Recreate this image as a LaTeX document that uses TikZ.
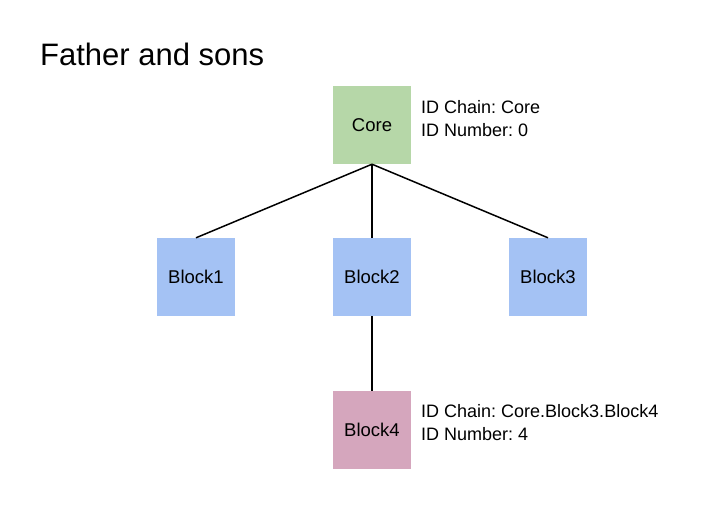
\documentclass[tikz,border=0pt]{standalone}
\usepackage{fontspec}
\setmainfont{Liberation Sans}
\definecolor{coregreen}{HTML}{B6D7A8}
\definecolor{blockblue}{HTML}{A4C2F4}
\definecolor{blockpink}{HTML}{D5A6BD}
\frenchspacing
\begin{document}
\begin{tikzpicture}[x=1pt,y=-1pt]

  \tikzstyle{block} = [minimum size=78pt, inner sep=0, font=\fontsize{18.5}{22}\selectfont]
  \tikzstyle{info} = [anchor=base west, inner sep=0, font=\fontsize{18}{22}\selectfont]

  \useasboundingbox (0,0) rectangle (727,512);

  \node[anchor=base west, inner sep=0, font=\fontsize{31}{36}\selectfont] (title) at (40,65) {Father and sons};

  \node[block, fill=coregreen] (Core) at (372,125) {Core};
  \node[block, fill=blockblue] (B1) at (196,277) {Block1};
  \node[block, fill=blockblue] (B2) at (372,277) {Block2};
  \node[block, fill=blockblue] (B3) at (548,277) {Block3};
  \node[block, fill=blockpink] (B4) at (372,430) {Block4};

  \node[info] (CoreChain) at (421,113) {ID Chain: Core};
  \node[info] (CoreNum) at (421,136) {ID Number: 0};
  \node[info] (B4Chain) at (421,417) {ID Chain: Core.Block3.Block4};
  \node[info] (B4Num) at (421,440) {ID Number: 4};

  \draw[line width=1.5pt] (Core.south) -- (B1.north);
  \draw[line width=1.5pt] (Core.south) -- (B2.north);
  \draw[line width=1.5pt] (Core.south) -- (B3.north);
  \draw[line width=1.5pt] (B2.south) -- (B4.north);

\end{tikzpicture}
\end{document}
